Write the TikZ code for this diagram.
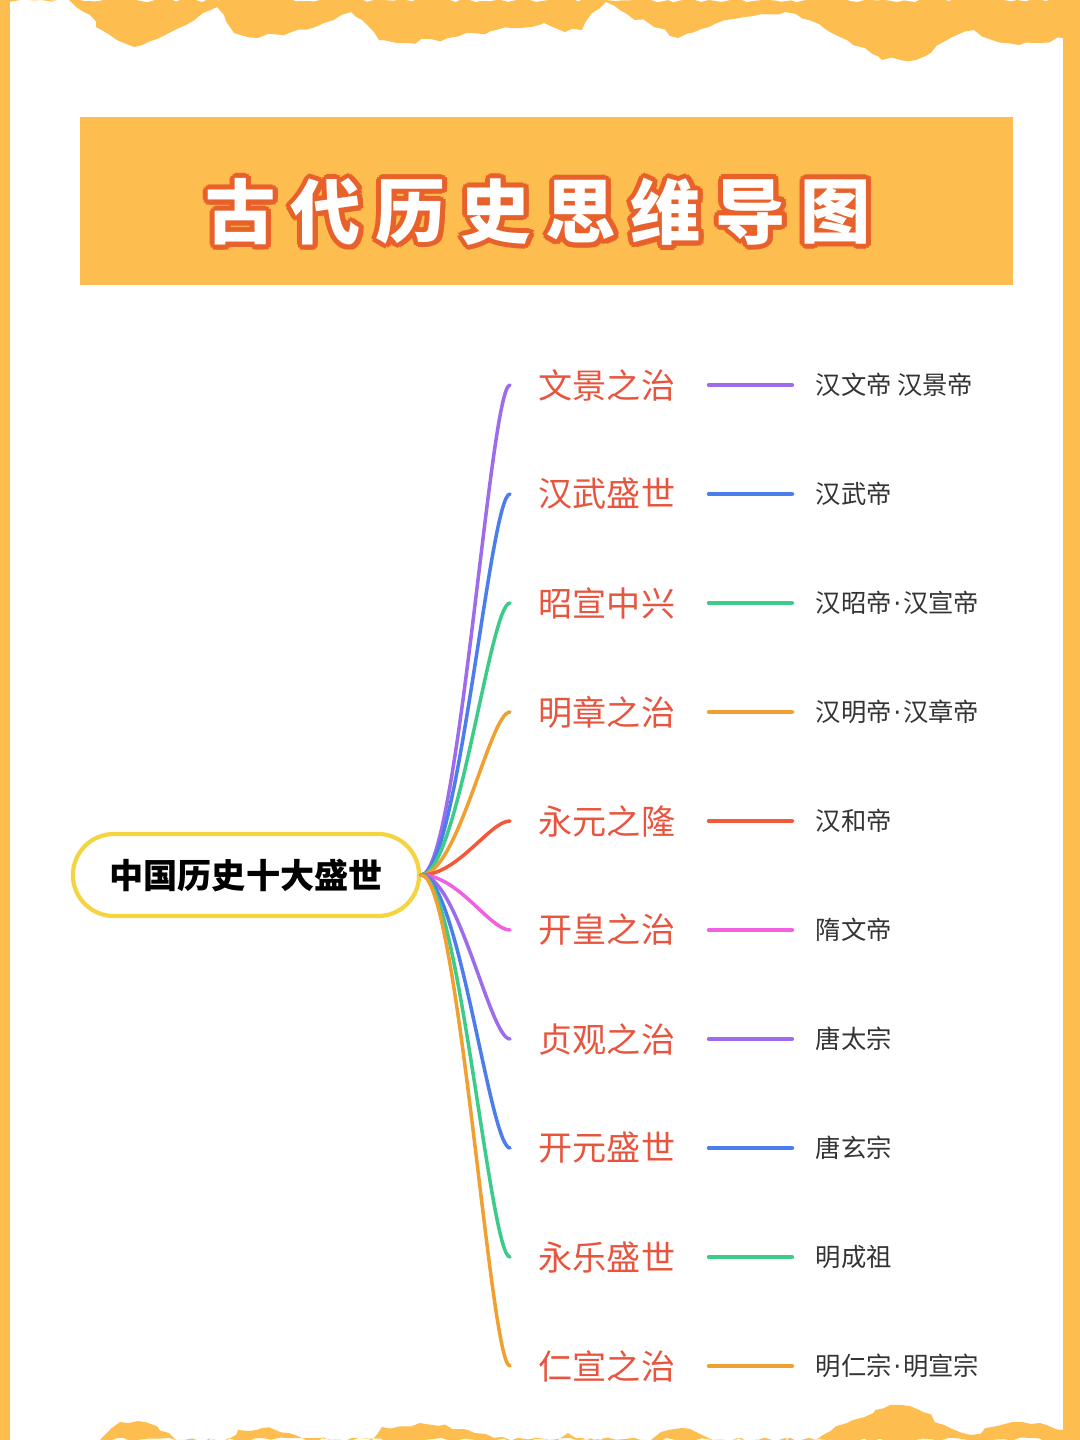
\documentclass[tikz,border=0pt]{standalone}
\usepackage{fontspec}
\newfontfamily\cjk{Noto Sans CJK SC}
\newfontfamily\latin{DejaVu Sans}
\newcommand{\mdot}{{\latin\kern0.5pt·\kern0.5pt}}
\usetikzlibrary{decorations.pathmorphing}

\definecolor{frameorange}{HTML}{FDBD4F}
\definecolor{titleedge}{HTML}{E8602A}
\definecolor{rootyellow}{HTML}{F5D442}
\definecolor{branchred}{HTML}{E8553F}
\definecolor{leafgray}{HTML}{333333}
\definecolor{cpurple}{HTML}{9D6CEB}
\definecolor{cblue}{HTML}{4B7DEB}
\definecolor{cgreen}{HTML}{3DCB8A}
\definecolor{corange}{HTML}{EFA030}
\definecolor{cred}{HTML}{F4583A}
\definecolor{cpink}{HTML}{F060E0}

\tikzset{
  titlechar/.style={inner sep=0pt, font=\cjk\bfseries\fontsize{20}{22}\selectfont},
  rootbox/.style={draw=rootyellow, line width=1.2pt, fill=white, rounded corners=0.41cm,
    minimum width=3.46cm, minimum height=0.82cm, inner sep=0pt,
    font=\cjk\bfseries\fontsize{9.7}{12}\selectfont},
  branch/.style={anchor=west, inner sep=0pt, text=branchred, font=\cjk\fontsize{9.7}{12}\selectfont},
  leaf/.style={anchor=west, inner sep=0pt, text=leafgray, font=\cjk\fontsize{7.2}{9}\selectfont},
  stem/.style={line width=1pt, line cap=round},
  twig/.style={line width=1.2pt, line cap=round, shorten <=0.33cm, shorten >=0.23cm},
  torn/.style={fill=frameorange, decorate, decoration={random steps, segment length=2.5pt, amplitude=0.7pt}},
}

\begin{document}
\begin{tikzpicture}[x=0.01cm, y=-0.01cm]
  \useasboundingbox (0,0) rectangle (1080,1440);

  % Frame
  \fill[frameorange] (0,0) rectangle (10,1440);
  \fill[frameorange] (1063,0) rectangle (1080,1440);

  % Torn edge, top
  \fill[torn] (0,0) -- (69,0) -- (76,7) -- (90,15) -- (96,27) -- (117,40) -- (134,47)
    -- (148,42) -- (169,33) -- (186,25) -- (203,13) -- (217,7) -- (224,15) -- (234,33)
    -- (258,38) -- (289,33) -- (324,23) -- (351,12) -- (362,20) -- (379,40) -- (406,43)
    -- (448,38) -- (496,30) -- (544,23) -- (565,32) -- (582,30) -- (592,13) -- (606,2)
    -- (620,10) -- (654,27) -- (678,38) -- (709,27) -- (744,17) -- (785,12) -- (809,20)
    -- (847,40) -- (882,60) -- (916,60) -- (947,40) -- (974,30) -- (992,40) -- (1019,45)
    -- (1040,43) -- (1064,38) -- (1080,0) -- cycle;

  % Torn edge, bottom
  \fill[torn] (100,1440) -- (120,1422) -- (138,1421) -- (169,1433) -- (176,1440)
    -- (227,1440) -- (238,1430) -- (262,1428) -- (289,1433) -- (306,1440)
    -- (372,1440) -- (382,1427) -- (420,1423) -- (468,1430) -- (503,1437) -- (510,1440)
    -- (558,1440) -- (568,1433) -- (582,1438) -- (590,1440)
    -- (651,1440) -- (661,1432) -- (682,1428) -- (702,1435) -- (713,1440)
    -- (816,1440) -- (847,1423) -- (875,1410) -- (902,1405) -- (923,1412) -- (944,1425)
    -- (971,1435) -- (992,1427) -- (1012,1422) -- (1040,1423) -- (1064,1430) -- (1064,1440) -- cycle;

  % Title banner
  \fill[frameorange] (80,117) rectangle (1013,285);
  \foreach \c [count=\k] in {古,代,历,史,思,维,导,图} {
    \foreach \a in {0,30,...,330}
      \node[titlechar, text=titleedge] at ([shift={(\a:5)}] 156+85*\k,212) {\c};
    \node[titlechar, text=white] (t\k) at (156+85*\k,212) {\c};
  }

  % Root
  \node[rootbox] (root) at (246,875) {中国历史十大盛世};

  % Branches and leaves
  \foreach \y/\era/\who/\col [count=\i] in {
      385/文景之治/汉文帝 汉景帝/cpurple,
      494/汉武盛世/汉武帝/cblue,
      603/昭宣中兴/汉昭帝\mdot 汉宣帝/cgreen,
      712/明章之治/汉明帝\mdot 汉章帝/corange,
      821/永元之隆/汉和帝/cred,
      930/开皇之治/隋文帝/cpink,
      1039/贞观之治/唐太宗/cpurple,
      1148/开元盛世/唐玄宗/cblue,
      1257/永乐盛世/明成祖/cgreen,
      1366/仁宣之治/明仁宗\mdot 明宣宗/corange} {
    \node[branch] (b\i) at (538,\y) {\era};
    \node[leaf] (l\i) at (815,\y) {\who};
    \draw[stem, \col] (root.east) .. controls (458,875) and (490,\y) .. ([xshift=-0.28cm]b\i.west);
    \draw[twig, \col] (b\i.east) -- (l\i.west);
  }
\end{tikzpicture}
\end{document}
